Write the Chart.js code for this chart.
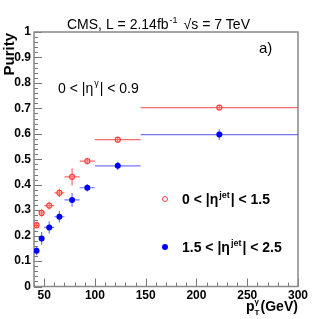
<!DOCTYPE html>
<html>
<head>
<meta charset="utf-8">
<script src="https://cdn.jsdelivr.net/npm/chart.js@4/dist/chart.umd.min.js"></script>
<style>
  html, body { margin: 0; padding: 0; background: #fff; }
  #wrap { width: 332px; height: 319px; }
</style>
</head>
<body>
<div id="wrap"><canvas id="myChart" width="332" height="319"></canvas></div>
<script>
// pT bins (GeV)
const ptLow = [40, 45, 50, 60, 70, 85, 100, 145];
const ptHigh = [45, 50, 60, 70, 85, 100, 145, 300];
const ptCenter = [42.5, 47.5, 55, 65, 77.5, 92.5, 122.5, 222.5];

// purity, 0 < |eta jet| < 1.5
const purityCentral = [0.241, 0.289, 0.318, 0.368, 0.431, 0.493, 0.577, 0.703];
const purityCentralErr = [0.013, 0.015, 0.015, 0.016, 0.034, 0.013, 0.008, 0.008];

// purity, 1.5 < |eta jet| < 2.5
const purityForward = [0.140, 0.189, 0.232, 0.274, 0.340, 0.388, 0.474, 0.597];
const purityForwardErr = [0.018, 0.025, 0.024, 0.023, 0.027, 0.015, 0.016, 0.021];

const xMajorTicks = [50, 100, 150, 200, 250, 300];
const yMajorTicks = [0, 0.1, 0.2, 0.3, 0.4, 0.5, 0.6, 0.7, 0.8, 0.9, 1];

const FONT = '"Liberation Sans", Arial, Helvetica, sans-serif';
const RED = 'rgb(255, 60, 60)';
const RED_LINE = 'rgba(255, 70, 70, 0.8)';
const BLUE = 'rgb(0, 0, 255)';
const BLUE_LINE = 'rgba(70, 70, 255, 0.75)';

function makePoints(ys) {
    let pts = [];
    for (let i = 0; i < ptCenter.length; i++) {
        pts.push({ x: ptCenter[i], y: ys[i] });
    }
    return pts;
}

// error bars + inner ticks + frame + texts
const rootStyle = {
    id: 'rootStyle',
    beforeDatasetsDraw(chart) {
        const ctx = chart.ctx;
        const xs = chart.scales.x;
        const ys = chart.scales.y;
        const a = chart.chartArea;

        // inner tick marks
        ctx.save();
        ctx.strokeStyle = '#777';
        ctx.lineWidth = 1;
        ctx.beginPath();
        for (let v = 40; v <= 300; v += 10) {
            const px = Math.round(xs.getPixelForValue(v)) + 0.5;
            const len = (v % 50 === 0) ? 8 : 4;
            ctx.moveTo(px, a.bottom);
            ctx.lineTo(px, a.bottom - len);
        }
        for (let k = 0; k <= 50; k++) {
            const py = Math.round(ys.getPixelForValue(k * 0.02)) + 0.5;
            const len = (k % 5 === 0) ? 8 : 4;
            ctx.moveTo(a.left, py);
            ctx.lineTo(a.left + len, py);
        }
        ctx.stroke();

        // frame
        ctx.strokeStyle = '#888';
        ctx.lineWidth = 1.5;
        ctx.strokeRect(a.left, a.top, a.right - a.left, a.bottom - a.top);
        ctx.restore();

        // error bars
        const sets = [
            { vals: purityCentral, errs: purityCentralErr, color: RED_LINE },
            { vals: purityForward, errs: purityForwardErr, color: BLUE_LINE }
        ];
        ctx.save();
        ctx.lineWidth = 1.2;
        for (const s of sets) {
            ctx.strokeStyle = s.color;
            ctx.beginPath();
            for (let i = 0; i < ptCenter.length; i++) {
                const py = ys.getPixelForValue(s.vals[i]);
                ctx.moveTo(xs.getPixelForValue(ptLow[i]), py);
                ctx.lineTo(xs.getPixelForValue(ptHigh[i]), py);
                const px = xs.getPixelForValue(ptCenter[i]);
                ctx.moveTo(px, ys.getPixelForValue(s.vals[i] - s.errs[i]));
                ctx.lineTo(px, ys.getPixelForValue(s.vals[i] + s.errs[i]));
            }
            ctx.stroke();
        }
        ctx.restore();
    },
    afterDraw(chart) {
        const ctx = chart.ctx;
        ctx.save();
        ctx.fillStyle = '#000';
        ctx.textBaseline = 'alphabetic';

        // title
        ctx.font = '14px ' + FONT;
        let x = 67;
        const by = 29;
        const p1 = 'CMS, L = 2.14fb';
        ctx.fillText(p1, x, by);
        x += ctx.measureText(p1).width;
        ctx.font = '9px ' + FONT;
        ctx.fillText('-1', x + 1, by - 6);
        x += ctx.measureText('-1').width + 7;
        ctx.font = '14px ' + FONT;
        ctx.fillText('\u221As = 7 TeV', x, by);

        // a)
        ctx.font = '15px ' + FONT;
        ctx.fillText('a)', 259, 53);

        // eta gamma text
        ctx.font = '14px ' + FONT;
        x = 58;
        const ey = 93;
        ctx.fillText('0 < |\u03B7', x, ey);
        x += ctx.measureText('0 < |\u03B7').width;
        ctx.font = '9px ' + FONT;
        ctx.fillText('\u03B3', x + 1, ey - 7);
        x += ctx.measureText('\u03B3').width + 2;
        ctx.font = '14px ' + FONT;
        ctx.fillText('| < 0.9', x, ey);

        // legend
        function legendLine(yc, lo, hi) {
            let lx = 182;
            const ly = yc + 5;
            ctx.font = 'bold 14px ' + FONT;
            const t1 = lo + ' < |\u03B7';
            ctx.fillText(t1, lx, ly);
            lx += ctx.measureText(t1).width;
            ctx.font = 'bold 9px ' + FONT;
            ctx.fillText('jet', lx + 1, ly - 6);
            lx += ctx.measureText('jet').width + 2;
            ctx.font = 'bold 14px ' + FONT;
            ctx.fillText('| < ' + hi, lx, ly);
        }
        ctx.strokeStyle = RED;
        ctx.lineWidth = 1;
        ctx.beginPath();
        ctx.arc(165, 199, 2.5, 0, Math.PI * 2);
        ctx.stroke();
        legendLine(199, '0', '1.5');
        ctx.fillStyle = BLUE;
        ctx.beginPath();
        ctx.arc(165, 247, 3, 0, Math.PI * 2);
        ctx.fill();
        ctx.fillStyle = '#000';
        legendLine(247, '1.5', '2.5');

        // x title
        ctx.font = 'bold 14px ' + FONT;
        x = 246;
        const xy = 311;
        ctx.fillText('p', x, xy);
        x += ctx.measureText('p').width;
        ctx.font = 'bold 8px ' + FONT;
        ctx.fillText('\u03B3', x, xy - 7);
        ctx.fillText('T', x, xy + 4);
        x += 6;
        ctx.font = 'bold 14px ' + FONT;
        ctx.fillText('(GeV)', x, xy);

        // y title
        ctx.translate(14, 33);
        ctx.rotate(-Math.PI / 2);
        ctx.font = 'bold 15px ' + FONT;
        ctx.textAlign = 'right';
        ctx.fillText('Purity', 0, 0);
        ctx.restore();
    }
};

function drawChart() {
    const ctx = document.getElementById('myChart');

    new Chart(ctx, {
        type: 'scatter',
        data: {
            datasets: [{
                label: '0 < |eta jet| < 1.5',
                data: makePoints(purityCentral),
                pointStyle: 'circle',
                pointRadius: 2.5,
                borderWidth: 1.2,
                borderColor: RED,
                backgroundColor: 'rgba(255,255,255,0)'
            }, {
                label: '1.5 < |eta jet| < 2.5',
                data: makePoints(purityForward),
                pointStyle: 'circle',
                pointRadius: 3,
                borderWidth: 0,
                borderColor: BLUE,
                backgroundColor: BLUE
            }]
        },
        options: {
            responsive: false,
            animation: false,
            layout: {
                padding: { left: 0, right: 34, top: 32, bottom: 0 }
            },
            plugins: {
                legend: { display: false },
                tooltip: { enabled: false },
                title: { display: false }
            },
            scales: {
                x: {
                    type: 'linear',
                    min: 40,
                    max: 300,
                    afterFit: (scale) => { scale.height = 32.5; },
                    afterBuildTicks: (scale) => {
                        scale.ticks = xMajorTicks.map(v => ({ value: v }));
                    },
                    grid: { display: false, drawTicks: false },
                    border: { display: false },
                    ticks: {
                        padding: 2,
                        color: '#000',
                        font: { family: FONT, size: 12, weight: 'bold' },
                        maxRotation: 0,
                        callback: (v) => String(v)
                    }
                },
                y: {
                    min: 0,
                    max: 1,
                    afterFit: (scale) => { scale.width = 34; },
                    afterBuildTicks: (scale) => {
                        scale.ticks = yMajorTicks.map(v => ({ value: v }));
                    },
                    grid: { display: false, drawTicks: false },
                    border: { display: false },
                    ticks: {
                        padding: 3,
                        color: '#000',
                        font: { family: FONT, size: 12, weight: 'bold' },
                        callback: (v) => (v === 0 || v === 1) ? String(v) : v.toFixed(1)
                    }
                }
            }
        },
        plugins: [rootStyle]
    });
}

drawChart();
</script>
</body>
</html>
